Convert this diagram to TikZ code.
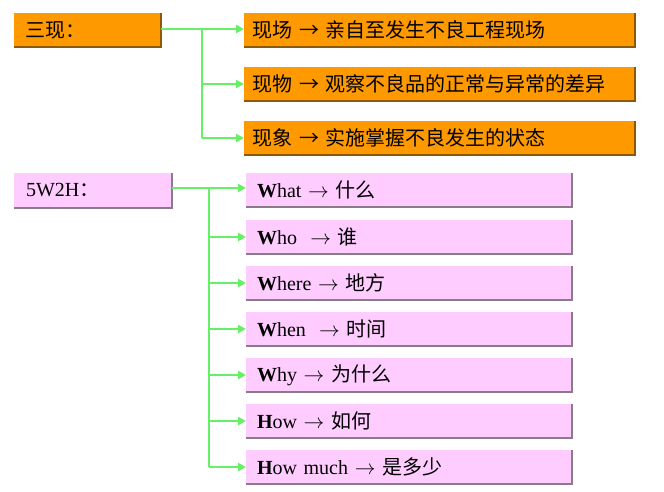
\documentclass[tikz,border=0pt]{standalone}
\usepackage{fontspec}
\setmainfont{Liberation Serif}
\newfontfamily\cjk{Noto Sans CJK SC}
\usetikzlibrary{arrows.meta}
\definecolor{orng}{HTML}{FF9900}
\definecolor{orngedge}{HTML}{8C5A00}
\definecolor{pnk}{HTML}{FFCCFF}
\definecolor{pnkedge}{HTML}{8A7A8A}
\definecolor{grn}{HTML}{66F066}
\newcommand{\rarr}{\ensuremath{\rightarrow}}
\tikzset{
  obox/.style={fill=orng, anchor=north west, inner sep=0pt, outer sep=0pt, align=left, font=\fontsize{20}{22}\selectfont\cjk},
  pbox/.style={fill=pnk, anchor=north west, inner sep=0pt, outer sep=0pt, align=left, font=\fontsize{20}{22}\selectfont},
  oedge/.style={draw=orngedge, line width=1.2pt},
  pedge/.style={draw=pnkedge, line width=1.2pt},
  link/.style={draw=grn, line width=2.4pt},
  arr/.style={draw=grn, line width=2.4pt, -{Triangle[length=8pt,width=8pt]}}
}
\begin{document}
\begin{tikzpicture}[x=1pt,y=-1pt]
\useasboundingbox (0,0) rectangle (664,491);
% top group
\node[obox, minimum width=147pt, minimum height=34pt, text width=140pt] (sx) at (14,13) {\hspace*{8pt}三现：};
\node[obox, minimum width=391pt, minimum height=34pt, text width=386pt] (x1) at (244,13) {\hspace*{6pt}现场 → 亲自至发生不良工程现场};
\node[obox, minimum width=391pt, minimum height=34pt, text width=386pt] (x2) at (244,67) {\hspace*{6pt}现物 → 观察不良品的正常与异常的差异};
\node[obox, minimum width=391pt, minimum height=34pt, text width=386pt] (x3) at (244,121) {\hspace*{6pt}现象 → 实施掌握不良发生的状态};
\foreach \n in {sx,x1,x2,x3}{
  \draw[oedge] (\n.north east) -- (\n.south east) -- (\n.south west);
}
\coordinate (tj) at (202,29);
\coordinate (tb) at (202,138);
\draw[link] (sx.east |- tj) -- (tj) -- (tb);
\draw[arr] (tj) -- (x1.west |- tj);
\draw[arr] (202,84) -- (x2.west);
\draw[arr] (tb) -- (x3.west |- tb);
% bottom group
\node[pbox, minimum width=158pt, minimum height=35pt, text width=150pt] (w) at (14,173) {\hspace*{8pt}5W2H{\cjk ：}};
\node[pbox, minimum width=326pt, minimum height=34pt, text width=320pt] (q1) at (246,173) {\hspace*{8pt}\textbf{W}hat \rarr\ {\cjk 什么}};
\node[pbox, minimum width=326pt, minimum height=34pt, text width=320pt] (q2) at (246,220) {\hspace*{8pt}\textbf{W}ho \ \rarr\ {\cjk 谁}};
\node[pbox, minimum width=326pt, minimum height=34pt, text width=320pt] (q3) at (246,266) {\hspace*{8pt}\textbf{W}here \rarr\ {\cjk 地方}};
\node[pbox, minimum width=326pt, minimum height=34pt, text width=320pt] (q4) at (246,312) {\hspace*{8pt}\textbf{W}hen \ \rarr\ {\cjk 时间}};
\node[pbox, minimum width=326pt, minimum height=34pt, text width=320pt] (q5) at (246,358) {\hspace*{8pt}\textbf{W}hy \rarr\ {\cjk 为什么}};
\node[pbox, minimum width=326pt, minimum height=34pt, text width=320pt] (q6) at (246,404) {\hspace*{8pt}\textbf{H}ow \rarr\ {\cjk 如何}};
\node[pbox, minimum width=326pt, minimum height=34pt, text width=320pt] (q7) at (246,450) {\hspace*{8pt}\textbf{H}ow much \rarr\ {\cjk 是多少}};
\foreach \n in {w,q1,q2,q3,q4,q5,q6,q7}{
  \draw[pedge] (\n.north east) -- (\n.south east) -- (\n.south west);
}
\coordinate (bj) at (209,188);
\coordinate (bb) at (209,467);
\draw[link] (w.east |- bj) -- (bj) -- (bb);
\draw[arr] (bj) -- (q1.west |- bj);
\foreach \n in {q2,q3,q4,q5,q6}{
  \draw[arr] (bj |- \n.west) -- (\n.west);
}
\draw[arr] (bb) -- (q7.west |- bb);
\end{tikzpicture}
\end{document}
